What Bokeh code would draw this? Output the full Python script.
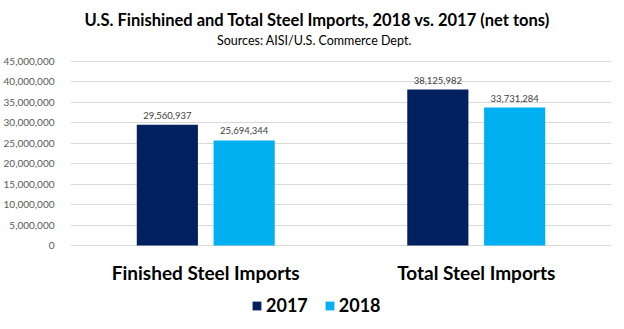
from bokeh.plotting import figure
from bokeh.models import (FactorRange, Range1d, ColumnDataSource, NumeralTickFormatter, LabelSet,
                          Label, Legend, LegendItem, FixedTicker)
from bokeh.core.properties import value
from bokeh.transform import dodge
from bokeh.embed import file_html
from bokeh.resources import INLINE

categories = ["Finished Steel Imports", "Total Steel Imports"]
years = ["2017", "2018"]
values_2017 = [29560937, 38125982]
values_2018 = [25694344, 33731284]
y_ticks = [0, 5000000, 10000000, 15000000, 20000000, 25000000, 30000000, 35000000, 40000000, 45000000]

c2017 = "#002060"
c2018 = "#00B0F0"
FONT = "Lato"

W, H = 624, 329
LEFT, RIGHT = 63, 13
TOP_PX, ZERO_PX = 61, 245          # pixel rows of the 45M and 0 gridlines
per_px = (y_ticks[-1] - y_ticks[0]) / (ZERO_PX - TOP_PX)
y_hi = y_ticks[-1] + TOP_PX * per_px
y_lo = y_ticks[0] - (H - ZERO_PX) * per_px

def y_at(px):
    return y_hi - px * per_px

def x_at(px):
    return (px - LEFT) / (W - LEFT - RIGHT) * len(categories)

src = ColumnDataSource(dict(
    cat=categories,
    v17=values_2017,
    v18=values_2018,
    l17=[f"{v:,}" for v in values_2017],
    l18=[f"{v:,}" for v in values_2018],
    zero=[0] * len(categories),
))

p = figure(width=W, height=H, x_range=FactorRange(*categories), y_range=Range1d(y_lo, y_hi),
           output_backend="svg", toolbar_location=None, x_axis_location=None,
           min_border_left=LEFT, min_border_right=RIGHT, min_border_top=0, min_border_bottom=0)
p.outline_line_color = None
p.background_fill_color = "white"

r17 = p.vbar(x=dodge("cat", -0.142, range=p.x_range), top="v17", width=0.226, source=src,
             fill_color=c2017, line_color=None)
r18 = p.vbar(x=dodge("cat", 0.142, range=p.x_range), top="v18", width=0.226, source=src,
             fill_color=c2018, line_color=None)

for col, lab, off in (("v17", "l17", -0.142), ("v18", "l18", 0.142)):
    p.add_layout(LabelSet(x=dodge("cat", off, range=p.x_range), y=col, text=lab, source=src,
                          text_align="center", text_baseline="bottom", y_offset=6,
                          text_font_size=value("9.5px"), text_color="#404040",
                          text_font=value(FONT)))

# category labels under the baseline
p.add_layout(LabelSet(x="cat", y="zero", text="cat", source=src, text_align="center",
                      text_baseline="middle", y_offset=-27, text_font_size=value("19px"),
                      text_font_style="bold", text_color="black", text_font=value(FONT)))

p.yaxis.ticker = FixedTicker(ticks=y_ticks)
p.yaxis.formatter = NumeralTickFormatter(format="0,0")
p.yaxis.axis_line_color = None
p.yaxis.major_tick_line_color = None
p.yaxis.minor_tick_line_color = None
p.yaxis.major_label_text_font_size = "10px"
p.yaxis.major_label_text_color = "#595959"
p.yaxis.major_label_text_font = FONT
p.yaxis.major_label_standoff = 10

p.xgrid.grid_line_color = None
p.ygrid.grid_line_color = "#d9d9d9"
p.ygrid.ticker = FixedTicker(ticks=y_ticks)

p.add_layout(Label(x=x_at(313), y=y_at(19), text="U.S. Finishined and Total Steel Imports, 2018 vs. 2017 (net tons)",
                   text_align="center", text_baseline="middle", text_font_size="16.5px",
                   text_font_style="bold", text_color="black", text_font=FONT))
p.add_layout(Label(x=x_at(310), y=y_at(40), text="Sources: AISI/U.S. Commerce Dept.",
                   text_align="center", text_baseline="middle", text_font_size="12.5px",
                   text_color="black", text_font=FONT))

legend = Legend(items=[LegendItem(label=years[0], renderers=[r17]),
                       LegendItem(label=years[1], renderers=[r18])],
                orientation="horizontal", location=(244 - LEFT, 13),
                label_text_font_size="18px", label_text_font_style="bold",
                label_text_color="black",
                label_text_font=FONT, glyph_width=11, glyph_height=11,
                spacing=16, label_standoff=4, border_line_color=None,
                background_fill_alpha=0, margin=0, padding=2)
p.add_layout(legend)

open("out.html", "w").write(file_html(p, INLINE))
